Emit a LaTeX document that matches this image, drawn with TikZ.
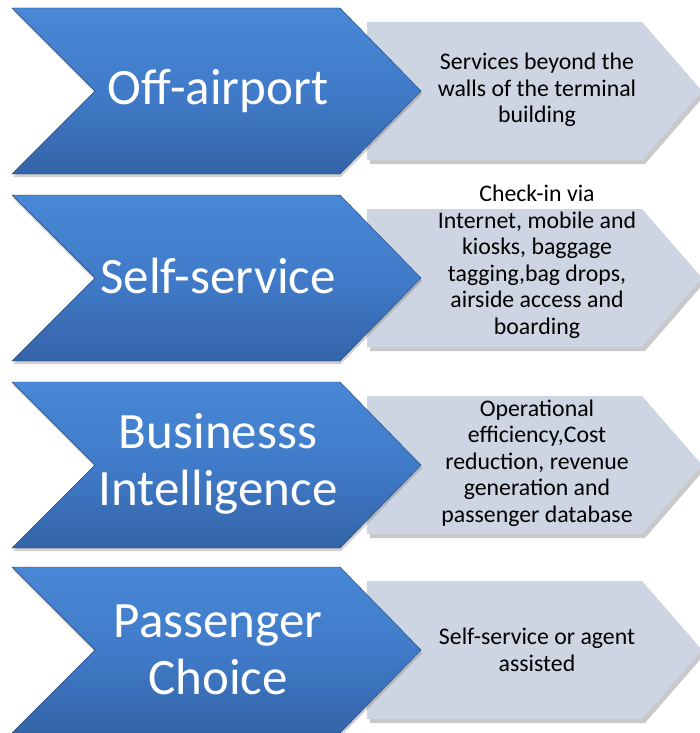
\documentclass[tikz,border=0pt]{standalone}
\usepackage{fontspec}
\setmainfont{Carlito}
\usetikzlibrary{shadows}
\definecolor{bluetop}{RGB}{72,136,214}
\definecolor{bluemid}{RGB}{64,123,201}
\definecolor{bluebot}{RGB}{52,100,168}
\definecolor{grayfill}{RGB}{205,212,226}
\tikzset{
  bluechev/.style={top color=bluetop, bottom color=bluebot, middle color=bluemid,
    draw=bluebot!70!black, line width=0.4pt,
    drop shadow={shadow xshift=1pt, shadow yshift=-3pt, opacity=0.3, fill=black!60}},
  graychev/.style={fill=grayfill, draw=none,
    drop shadow={shadow xshift=3pt, shadow yshift=-4pt, opacity=0.35, fill=black!60}},
  bigtxt/.style={text=white, align=center, font=\fontsize{51}{57}\selectfont, inner sep=0pt},
  smalltxt/.style={text=black, align=center, font=\fontsize{23.8}{26.5}\selectfont, inner sep=0pt}
}
\begin{document}
\begin{tikzpicture}[x=1pt,y=-1pt]
\useasboundingbox (0,0) rectangle (700,733);
\fill[white] (0,0) rectangle (700,733);
\foreach \t in {8,195,382,567}{
  \path[graychev] (367,\t+14) -- (642,\t+14) -- (702,\t+83) -- (642,\t+152) -- (367,\t+152) -- cycle;
  \path[bluechev] (12,\t) -- (340,\t) -- (421,\t+83) -- (340,\t+166) -- (12,\t+166) -- (95,\t+83) -- cycle;
}
\node[bigtxt] (b1) at (218,91) {Off-airport};
\node[bigtxt] (b2) at (218,276) {Self-service};
\node[bigtxt] (b3) at (218,464) {Businesss\\Intelligence};
\node[bigtxt] (b4) at (218,650) {Passenger\\Choice};
\node[smalltxt] (s1) at (537,90) {Services beyond the\\walls of the terminal\\building};
\node[smalltxt] (s2) at (537,262) {Check-in via\\Internet, mobile and\\kiosks, baggage\\tagging,bag drops,\\airside access and\\boarding};
\node[smalltxt] (s3) at (537,463) {Operational\\efficiency,Cost\\reduction, revenue\\generation and\\passenger database};
\node[smalltxt] (s4) at (537,650) {Self-service or agent\\assisted};
\end{tikzpicture}
\end{document}
